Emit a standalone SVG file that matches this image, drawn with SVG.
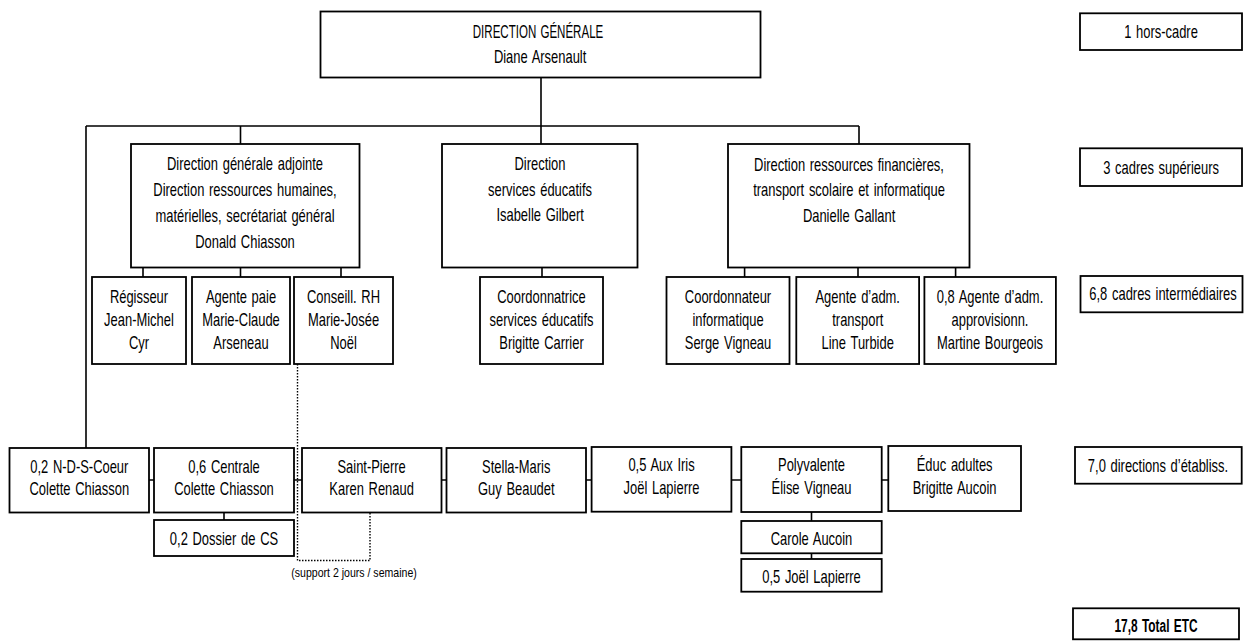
<svg xmlns="http://www.w3.org/2000/svg" width="1244" height="641" viewBox="0 0 1244 641">
<style>
.b{fill:#fff;stroke:#000;stroke-width:1.8}
.c{fill:none;stroke:#000;stroke-width:1.6}
.d{fill:none;stroke:#000;stroke-width:1.4;stroke-dasharray:1.5 1.5}
text{font-family:'Liberation Sans',Arial,sans-serif;font-size:17.5px;word-spacing:1.5px;fill:#000;text-anchor:middle;dominant-baseline:central;transform-box:fill-box;transform-origin:center;transform:scaleX(0.74)}
.s{font-size:12px;word-spacing:0;transform:scaleX(0.88)}
.caps{transform:scaleX(0.66)}
.bold{font-weight:bold;transform:scaleX(0.68)}
</style>
<rect width="1244" height="641" fill="#fff"/>
<g id="connectors">
<path class="c" d="M541 77.5V144M86 126H859M240.5 126V144M859 126V144M86 126V448"/>
<path class="c" d="M143 267.5V277M240.5 267.5V277M341 267.5V277M542 267.5V277M744.6 267.5V277M858 267.5V277M955.6 267.5V277"/>
<path class="c" d="M149 480H154M294 480H302M441.5 480H446.5M586 480H591.6M731.4 480H741.3M881.7 480H888.3"/>
<path class="c" d="M224 512.5V520M811.5 512V521M811.5 553.3V559"/>
<path class="d" d="M297.5 364V560.5H370V513"/>
</g>
<g id="dg"><rect class="b" x="320.5" y="11.5" width="440" height="66"/><text class="caps" x="538" y="31.7">DIRECTION GÉNÉRALE</text><text x="540" y="56.7">Diane Arsenault</text></g>
<g id="dga"><rect class="b" x="131" y="144" width="228.5" height="123.5"/><text x="245" y="164">Direction générale adjointe</text><text x="245" y="189.5">Direction ressources humaines,</text><text x="245" y="215.5">matérielles, secrétariat général</text><text x="245" y="241.5">Donald Chiasson</text></g>
<g id="dse"><rect class="b" x="442" y="144" width="195.5" height="123.5"/><text x="540" y="164">Direction</text><text x="540" y="189.5">services éducatifs</text><text x="540" y="215">Isabelle Gilbert</text></g>
<g id="drf"><rect class="b" x="728" y="144" width="241.5" height="123.5"/><text x="849" y="165">Direction ressources financières,</text><text x="849" y="190">transport scolaire et informatique</text><text x="849" y="215.5">Danielle Gallant</text></g>
<g id="regisseur"><rect class="b" x="92" y="277" width="94" height="87"/><text x="139" y="296.7">Régisseur</text><text x="139" y="320">Jean-Michel</text><text x="139" y="342.3">Cyr</text></g>
<g id="paie"><rect class="b" x="192" y="277" width="98" height="87"/><text x="241" y="296.7">Agente paie</text><text x="241" y="320">Marie-Claude</text><text x="241" y="342.3">Arseneau</text></g>
<g id="rh"><rect class="b" x="294" y="277" width="99" height="87"/><text x="343.5" y="296.7">Conseill. RH</text><text x="343.5" y="320">Marie-Josée</text><text x="343.5" y="342.3">Noël</text></g>
<g id="coordse"><rect class="b" x="480" y="277" width="123" height="87"/><text x="541.5" y="296.7">Coordonnatrice</text><text x="541.5" y="320">services éducatifs</text><text x="541.5" y="342.3">Brigitte Carrier</text></g>
<g id="coordinfo"><rect class="b" x="666.5" y="277" width="123" height="87"/><text x="728" y="296.7">Coordonnateur</text><text x="728" y="320">informatique</text><text x="728" y="342.3">Serge Vigneau</text></g>
<g id="transport"><rect class="b" x="796.3" y="277" width="122.8" height="87"/><text x="857.7" y="296.7">Agente d’adm.</text><text x="857.7" y="320">transport</text><text x="857.7" y="342.3">Line Turbide</text></g>
<g id="approv"><rect class="b" x="924.4" y="277" width="131.5" height="87"/><text x="990" y="296.7">0,8 Agente d’adm.</text><text x="990" y="320">approvisionn.</text><text x="990" y="342.3">Martine Bourgeois</text></g>
<g id="nds"><rect class="b" x="9.5" y="448" width="139.5" height="64.5"/><text x="79.3" y="466.5">0,2 N-D-S-Coeur</text><text x="79.3" y="489">Colette Chiasson</text></g>
<g id="centrale"><rect class="b" x="154" y="448" width="140" height="64.5"/><text x="224" y="466.5">0,6 Centrale</text><text x="224" y="489">Colette Chiasson</text></g>
<g id="dossier"><rect class="b" x="154" y="520" width="140" height="36"/><text x="224" y="539">0,2 Dossier de CS</text></g>
<g id="stpierre"><rect class="b" x="302" y="448" width="139.5" height="64.5"/><text x="371.6" y="466.5">Saint-Pierre</text><text x="371.6" y="489">Karen Renaud</text></g>
<g id="stella"><rect class="b" x="446.5" y="448" width="139.5" height="64.5"/><text x="516.2" y="466.5">Stella-Maris</text><text x="516.2" y="489">Guy Beaudet</text></g>
<g id="iris"><rect class="b" x="591.6" y="447" width="139.8" height="64.7"/><text x="661.5" y="465">0,5 Aux Iris</text><text x="661.5" y="488">Joël Lapierre</text></g>
<g id="poly"><rect class="b" x="741.3" y="447" width="140.4" height="65"/><text x="811.5" y="464.5">Polyvalente</text><text x="811.5" y="488">Élise Vigneau</text></g>
<g id="educ"><rect class="b" x="888.3" y="446" width="132.7" height="65"/><text x="954.6" y="464.5">Éduc adultes</text><text x="954.6" y="488">Brigitte Aucoin</text></g>
<g id="carole"><rect class="b" x="741.3" y="521" width="140.4" height="32.3"/><text x="811.5" y="539">Carole Aucoin</text></g>
<g id="joel"><rect class="b" x="741.3" y="559" width="140.4" height="32.7"/><text x="811.5" y="577">0,5 Joël Lapierre</text></g>
<g id="note"><text class="s" x="354" y="573">(support 2 jours / semaine)</text></g>
<g id="horscadre"><rect class="b" x="1080" y="13.3" width="162" height="36.7"/><text x="1161" y="32">1 hors-cadre</text></g>
<g id="superieurs"><rect class="b" x="1080" y="148.3" width="162" height="37.7"/><text x="1161" y="167.5">3 cadres supérieurs</text></g>
<g id="intermediaires"><rect class="b" x="1080.5" y="276" width="162" height="36.3"/><text x="1163" y="293.5">6,8 cadres intermédiaires</text></g>
<g id="etablissements"><rect class="b" x="1075" y="447" width="166.7" height="36.7"/><text x="1158" y="466">7,0 directions d’établiss.</text></g>
<g id="total"><rect class="b" x="1073" y="608.3" width="166" height="31"/><text class="bold" x="1156" y="626">17,8 Total ETC</text></g>
</svg>
